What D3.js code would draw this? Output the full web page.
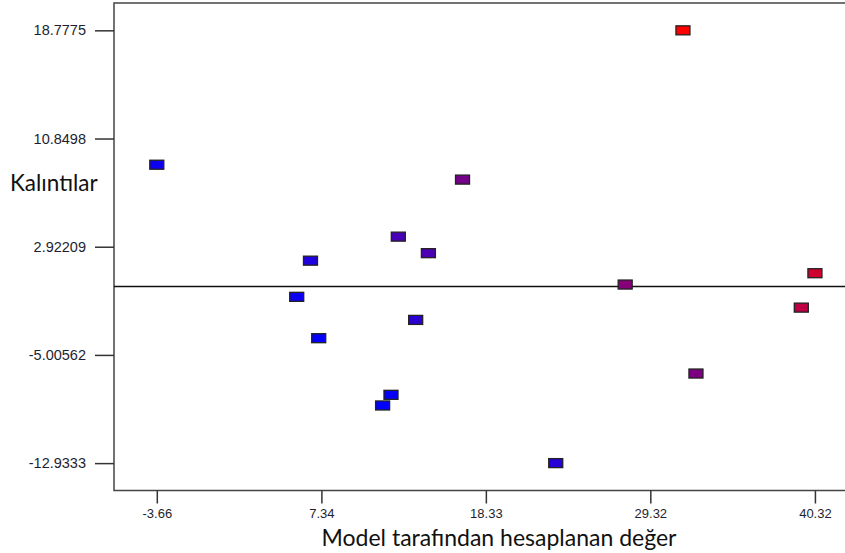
<!DOCTYPE html>
<html>
<head>
<meta charset="utf-8">
<script src="https://cdn.jsdelivr.net/npm/d3@7"></script>
<style>
  body { margin: 0; background: #fff; }
  svg { display: block; }
  .ytick text { font-family: "Liberation Sans", Arial, sans-serif; font-size: 14.5px; fill: #1e1e2e; }
  .xtick text { font-family: "Liberation Sans", Arial, sans-serif; font-size: 13px; fill: #1e1e2e; }
  .title { font-family: Lato, "Open Sans", sans-serif; fill: #111; }
</style>
</head>
<body>
<div id="chart"></div>
<script>
// Model tarafından hesaplanan değer (predicted) vs Kalıntılar (residuals)
const predicted = [-3.66, 6.61, 5.69, 7.16, 12.48, 14.49, 16.77, 13.64, 11.99, 11.43, 23.0, 27.64, 31.5, 32.37, 39.41, 40.32];
const residuals = [8.93, 1.90, -0.75, -3.78, 3.66, 2.45, 7.84, -2.44, -7.93, -8.71, -12.9333, 0.15, 18.7775, -6.37, -1.54, 0.98];
const xTicks = [-3.66, 7.34, 18.33, 29.32, 40.32];
const yTicks = [18.7775, 10.8498, 2.92209, -5.00562, -12.9333];

const W = 845, H = 553;
const plot = { left: 114, top: 3, right: 848, bottom: 490.5 };

const svg = d3.select("#chart").append("svg").attr("width", W).attr("height", H);

const x = d3.scaleLinear().domain([-6.52, 42.53]).range([plot.left, plot.right]);
const y = d3.scaleLinear().domain([-14.94, 20.78]).range([plot.bottom, plot.top]);

// colour by actual value (predicted + residual), blue -> red
const actual = predicted.map((p, i) => p + residuals[i]);
const color = d3.scaleLinear().domain(d3.extent(actual)).range(["#0000ff", "#ff0000"]).interpolate(d3.interpolateRgb);

// frame
svg.append("rect")
  .attr("x", plot.left).attr("y", plot.top)
  .attr("width", plot.right - plot.left).attr("height", plot.bottom - plot.top)
  .attr("fill", "none").attr("stroke", "#444").attr("stroke-width", 1.5);

// axes
const yAxis = svg.append("g").attr("class", "ytick")
  .attr("transform", `translate(${plot.left},0)`)
  .call(d3.axisLeft(y).tickValues(yTicks).tickSize(19).tickPadding(9).tickFormat(d => String(d)));
const xAxis = svg.append("g").attr("class", "xtick")
  .attr("transform", `translate(0,${plot.bottom})`)
  .call(d3.axisBottom(x).tickValues(xTicks).tickSize(13).tickPadding(5).tickFormat(d => d.toFixed(2)));
[yAxis, xAxis].forEach(a => {
  a.select(".domain").remove();
  a.selectAll(".tick line").attr("stroke", "#333").attr("stroke-width", 1.5);
});

// zero line
svg.append("line")
  .attr("x1", plot.left).attr("x2", plot.right)
  .attr("y1", y(0)).attr("y2", y(0))
  .attr("stroke", "#111").attr("stroke-width", 1.5);

// points
const mw = 14, mh = 9;
svg.append("g").selectAll("rect")
  .data(predicted.map((p, i) => ({ p, r: residuals[i], a: actual[i] })))
  .join("rect")
  .attr("x", d => x(d.p) - mw / 2)
  .attr("y", d => y(d.r) - mh / 2)
  .attr("width", mw).attr("height", mh)
  .attr("fill", d => color(d.a))
  .attr("stroke", "#222").attr("stroke-width", 1.3);

// titles
svg.append("text").attr("class", "title")
  .attr("x", 10).attr("y", 190.5).attr("font-size", 22.5)
  .text("Kalıntılar");
svg.append("text").attr("class", "title")
  .attr("x", 499).attr("y", 545.5).attr("font-size", 23).attr("text-anchor", "middle")
  .text("Model tarafından hesaplanan değer");
</script>
</body>
</html>
